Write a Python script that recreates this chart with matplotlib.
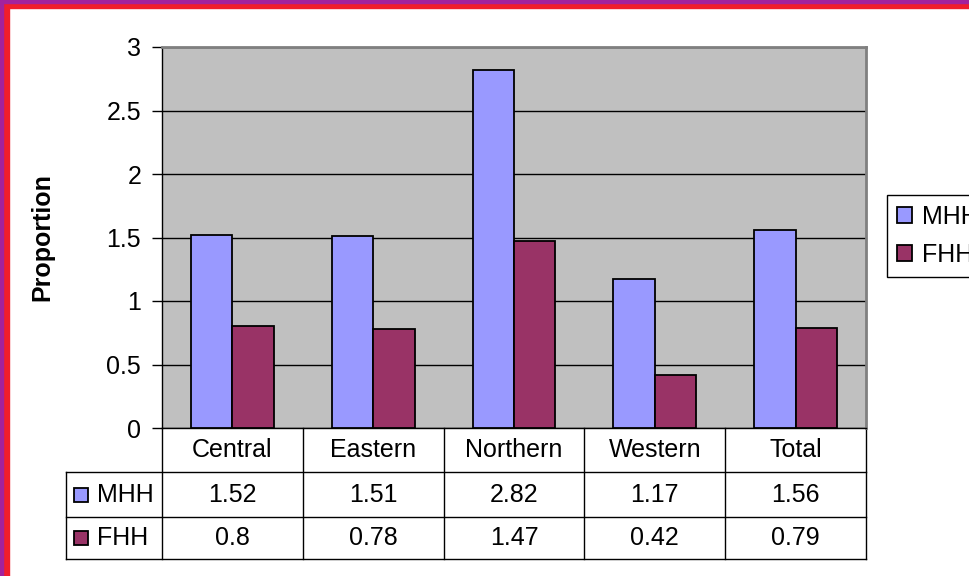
import matplotlib.pyplot as plt
import numpy as np
from matplotlib.patches import Rectangle

plt.rcParams['font.family'] = ['Liberation Sans', 'DejaVu Sans']

regions = ["Central", "Eastern", "Northern", "Western", "Total"]
series = ["MHH", "FHH"]
mhh = [1.52, 1.51, 2.82, 1.17, 1.56]
fhh = [0.8, 0.78, 1.47, 0.42, 0.79]
colors = ["#9999FF", "#993366"]

W, H = 970, 576
fig = plt.figure(figsize=(9.7, 5.76), dpi=100)
ax = fig.add_axes([162 / W, 1 - 428 / H, 704 / W, 381 / H])

x = np.arange(len(regions))
bw = 0.294
ax.bar(x - bw / 2, mhh, bw, color=colors[0], edgecolor="black", linewidth=1.3, zorder=3, label=series[0])
ax.bar(x + bw / 2, fhh, bw, color=colors[1], edgecolor="black", linewidth=1.3, zorder=3, label=series[1])

ax.set_facecolor("#C0C0C0")
ax.set_xlim(-0.5, len(regions) - 0.5)
ax.set_ylim(0, 3)
ax.set_yticks(np.arange(0, 3.01, 0.5))
ax.set_yticklabels(["0", "0.5", "1", "1.5", "2", "2.5", "3"])
ax.tick_params(axis="y", labelsize=18, length=7, width=1, pad=8, color="black")
ax.set_xticks([])
ax.yaxis.grid(True, color="black", linewidth=1)
ax.set_axisbelow(True)
for s in ["top", "right"]:
    ax.spines[s].set_color("#808080")
    ax.spines[s].set_linewidth(2)
for s in ["left", "bottom"]:
    ax.spines[s].set_color("black")
    ax.spines[s].set_linewidth(1)

ax.set_ylabel("Proportion", fontsize=18, fontweight="bold")
ax.yaxis.set_label_coords(-0.153, 0.5)

# data table under the axis
tr = ax.get_xaxis_transform()
rows_y = [0, -0.1155, -0.2336, -0.3438]
lab_left = -1.182
kw = dict(transform=tr, clip_on=False, color="black", linewidth=1)
for i in range(len(regions) + 1):
    ax.plot([i - 0.5, i - 0.5], [rows_y[0], rows_y[-1]], **kw)
ax.plot([lab_left, lab_left], [rows_y[1], rows_y[-1]], **kw)
for yy in rows_y[1:]:
    ax.plot([lab_left, len(regions) - 0.5], [yy, yy], **kw)

for i, r in enumerate(regions):
    ax.text(i, (rows_y[0] + rows_y[1]) / 2, r, transform=tr, ha="center", va="center", fontsize=18)
for j, (vals, c, name) in enumerate(zip([mhh, fhh], colors, series)):
    yc = (rows_y[j + 1] + rows_y[j + 2]) / 2
    for i, v in enumerate(vals):
        ax.text(i, yc, str(v), transform=tr, ha="center", va="center", fontsize=18)
    ax.plot([-1.075], [yc], marker="s", ms=10.5, mfc=c, mec="black", mew=1.3, transform=tr, clip_on=False)
    ax.text(-0.965, yc, name, transform=tr, ha="left", va="center", fontsize=18)

fig.legend(loc="upper left", bbox_to_anchor=(887 / W, 1 - 195 / H), fontsize=18,
           frameon=True, fancybox=False, edgecolor="black", framealpha=1,
           handlelength=0.6, handleheight=0.6, handletextpad=0.4,
           borderpad=0.4, labelspacing=0.55, borderaxespad=0)

# page border (top and left)
fig.add_artist(Rectangle((0, 1 - 8 / H), 1, 8 / H, transform=fig.transFigure, color="#F01E2C", zorder=10))
fig.add_artist(Rectangle((0, 1 - 3 / H), 1, 3 / H, transform=fig.transFigure, color="#A3229D", zorder=11))
fig.add_artist(Rectangle((0, 0), 9 / W, 1, transform=fig.transFigure, color="#F01E2C", zorder=10))
fig.add_artist(Rectangle((0, 0), 3 / W, 1, transform=fig.transFigure, color="#A3229D", zorder=11))

fig.savefig("out.png", dpi=100)
